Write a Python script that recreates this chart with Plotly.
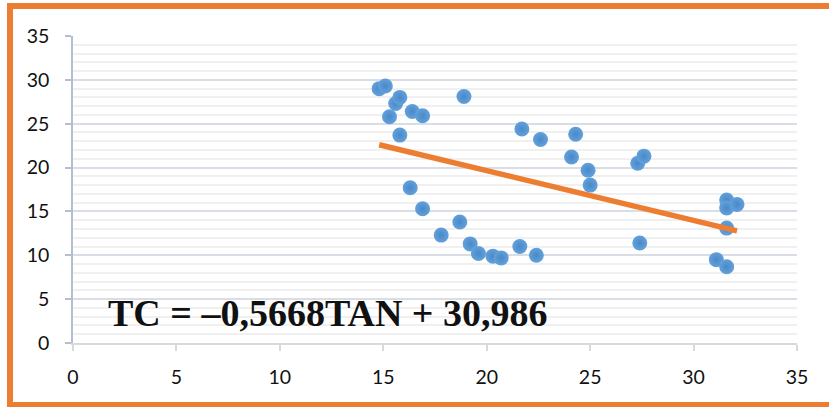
import plotly.graph_objects as go

# Data
tan_values = [14.8, 15.1, 15.3, 15.6, 15.8, 15.8, 16.3, 16.4, 16.9, 16.9,
              17.8, 18.9, 18.7, 19.2, 19.6, 20.3, 20.7, 21.6, 21.7, 22.4,
              22.6, 24.1, 24.3, 24.9, 25.0, 27.3, 27.6, 27.4, 31.1, 31.6,
              31.6, 32.1, 31.6, 31.6]
tc_values = [29.0, 29.3, 25.8, 27.3, 28.0, 23.7, 17.7, 26.4, 15.3, 25.9,
             12.3, 28.1, 13.8, 11.3, 10.2, 9.9, 9.7, 11.0, 24.4, 10.0,
             23.2, 21.2, 23.8, 19.7, 18.0, 20.5, 21.3, 11.4, 9.5, 16.3,
             15.4, 15.8, 13.1, 8.7]

# Trend line (from the displayed equation)
slope = -0.5668
intercept = 30.986
trend_x = [14.8, 32.1]
trend_y = [slope * v + intercept for v in trend_x]

tick_vals = [0, 5, 10, 15, 20, 25, 30, 35]
equation_text = "TC = \u20130,5668TAN + 30,986"

fig = go.Figure()
fig.add_trace(go.Scatter(
    x=tan_values, y=tc_values, mode="markers",
    marker=dict(size=15, color="#62A1DA",
                gradient=dict(type="radial", color="#4A89C8"),
                line=dict(width=0)),
    showlegend=False, cliponaxis=False, hoverinfo="skip"))
fig.add_trace(go.Scatter(
    x=trend_x, y=trend_y, mode="lines",
    line=dict(color="#ED7D31", width=5.5),
    showlegend=False, hoverinfo="skip"))

tick_font = dict(family="Lato, Calibri, Arial", size=19.5, color="#111111")

fig.update_layout(
    width=829, height=407,
    margin=dict(l=73, r=32, t=36, b=64),
    paper_bgcolor="white", plot_bgcolor="white",
    xaxis=dict(range=[0, 35], tickvals=tick_vals, showgrid=False, zeroline=False,
               showline=True, linecolor="#D9D9D9", linewidth=1.5,
               ticks="outside", ticklen=6, tickcolor="#D9D9D9", tickwidth=1.5,
               tickfont=tick_font, ticklabelstandoff=10),
    yaxis=dict(range=[0, 35], tickvals=tick_vals, showgrid=True,
               gridcolor="#D9DEE6", gridwidth=2, zeroline=False,
               showline=True, linecolor="#B4BED0", linewidth=1.5,
               ticks="outside", ticklen=6, tickcolor="#B4BED0", tickwidth=1.5,
               tickfont=tick_font, ticklabelstandoff=12,
               minor=dict(dtick=1, showgrid=True, gridcolor="#F0F0F0",
                          gridwidth=1.5, ticks="")),
    annotations=[dict(
        text=equation_text, xref="paper", yref="paper",
        x=(106 - 73) / 724, y=(343 - 313) / 307,
        xanchor="left", yanchor="middle", showarrow=False,
        font=dict(family="Liberation Serif, Times New Roman, serif",
                  size=38, color="#111111", weight="bold"))],
    shapes=[
        dict(type="line", xref="paper", yref="paper",
             x0=(10 - 73) / 724, x1=(840 - 73) / 724,
             y0=(343 - 6) / 307, y1=(343 - 6) / 307,
             line=dict(color="#ED7D31", width=6)),
        dict(type="line", xref="paper", yref="paper",
             x0=(10 - 73) / 724, x1=(10 - 73) / 724,
             y0=(343 - 3) / 307, y1=(343 - 408) / 307,
             line=dict(color="#ED7D31", width=6)),
        dict(type="line", xref="paper", yref="paper",
             x0=(7 - 73) / 724, x1=(840 - 73) / 724,
             y0=(343 - 405) / 307, y1=(343 - 405) / 307,
             line=dict(color="#ED7D31", width=6)),
    ],
)

fig.write_html("out.html",
               config={"displayModeBar": False},
               post_script="document.body.style.margin='0';document.body.style.overflow='hidden';")
